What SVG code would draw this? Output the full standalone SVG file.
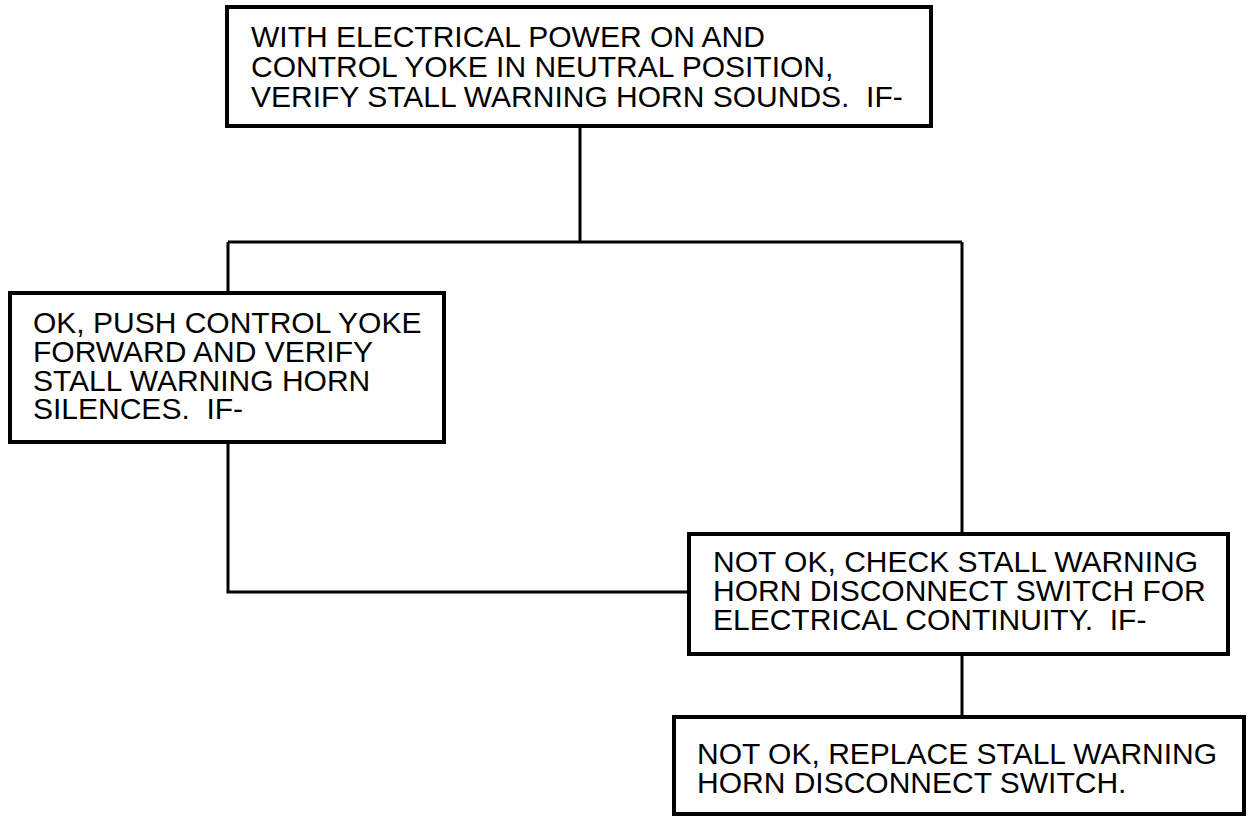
<svg xmlns="http://www.w3.org/2000/svg" width="1248" height="818" viewBox="0 0 1248 818" xml:space="preserve">
<style>
.box{fill:#fff;stroke:#000;stroke-width:4}
.c{fill:none;stroke:#000;stroke-width:3}
text{font-family:"Liberation Sans",Arial,sans-serif;font-size:30px;fill:#000;white-space:pre}
</style>
<rect width="1248" height="818" fill="#fff"/>
<g id="connectors">
<path class="c" d="M580 126V242M228 242H962M228 242V293M228 442V592H689M962 242V534M962 654V717"/>
</g>
<g id="n1">
<rect class="box" x="227" y="7" width="704" height="119"/>
<text x="251" y="47">WITH ELECTRICAL POWER ON AND</text>
<text x="251" y="77">CONTROL YOKE IN NEUTRAL POSITION,</text>
<text x="251" y="107">VERIFY STALL WARNING HORN SOUNDS.  IF-</text>
</g>
<g id="n2">
<rect class="box" x="10" y="293" width="434" height="149"/>
<text x="33" y="333">OK, PUSH CONTROL YOKE</text>
<text x="33" y="362">FORWARD AND VERIFY</text>
<text x="33" y="391">STALL WARNING HORN</text>
<text x="33" y="419">SILENCES.  IF-</text>
</g>
<g id="n3">
<rect class="box" x="689" y="534" width="539" height="120"/>
<text x="713" y="572">NOT OK, CHECK STALL WARNING</text>
<text x="713" y="601">HORN DISCONNECT SWITCH FOR</text>
<text x="713" y="630">ELECTRICAL CONTINUITY.  IF-</text>
</g>
<g id="n4">
<rect class="box" x="674" y="717" width="570" height="97"/>
<text x="697" y="764">NOT OK, REPLACE STALL WARNING</text>
<text x="697" y="793">HORN DISCONNECT SWITCH.</text>
</g>
</svg>
